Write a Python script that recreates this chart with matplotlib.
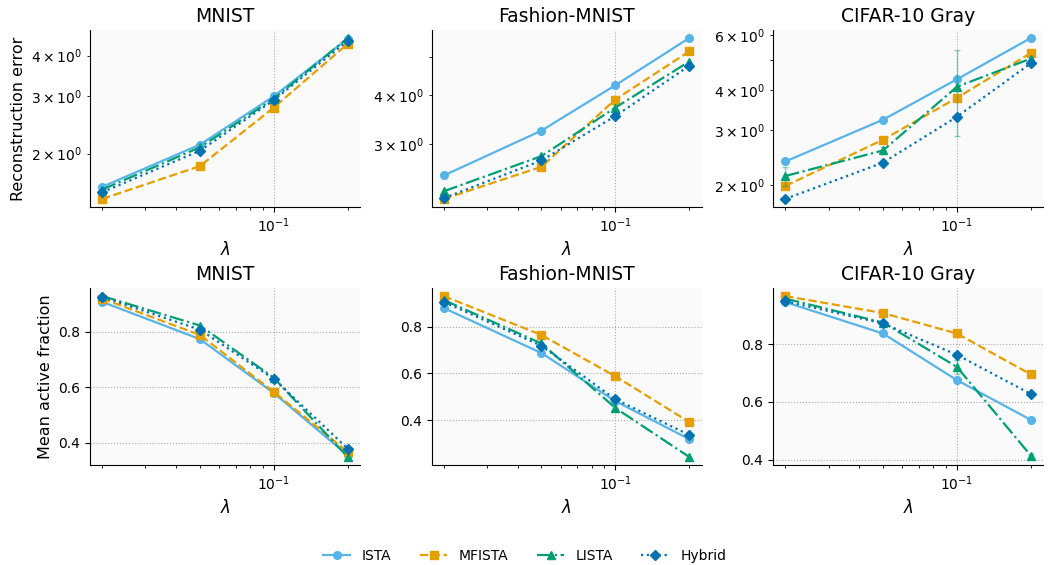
import numpy as np
import matplotlib
matplotlib.use("Agg")
import matplotlib.pyplot as plt

lams = [0.02, 0.05, 0.1, 0.2]
datasets = ["MNIST", "Fashion-MNIST", "CIFAR-10 Gray"]
methods = ["ISTA", "MFISTA", "LISTA", "Hybrid"]
colors = {"ISTA": "#56B4E9", "MFISTA": "#E69F00", "LISTA": "#009E73", "Hybrid": "#0072B2"}
styles = {"ISTA": ("-", "o"), "MFISTA": ("--", "s"), "LISTA": ("-.", "^"), "Hybrid": (":", "D")}

# reconstruction error (mean over runs)
rec_mnist = {
    "ISTA":   [1.58, 2.13, 3.00, 4.51],
    "MFISTA": [1.45, 1.83, 2.77, 4.35],
    "LISTA":  [1.55, 2.09, 2.95, 4.53],
    "Hybrid": [1.52, 2.04, 2.92, 4.44],
}
rec_fashion = {
    "ISTA":   [2.49, 3.24, 4.23, 5.58],
    "MFISTA": [2.17, 2.62, 3.89, 5.16],
    "LISTA":  [2.27, 2.79, 3.71, 4.86],
    "Hybrid": [2.18, 2.72, 3.53, 4.74],
}
rec_cifar = {
    "ISTA":   [2.38, 3.23, 4.34, 5.87],
    "MFISTA": [1.99, 2.79, 3.79, 5.26],
    "LISTA":  [2.14, 2.58, 4.11, 5.05],
    "Hybrid": [1.81, 2.36, 3.30, 4.88],
}
# std of reconstruction error (only LISTA noticeably nonzero)
rec_cifar_lista_std = [0.15, 0.06, 1.25, 0.05]

# mean active fraction
act_mnist = {
    "ISTA":   [0.907, 0.773, 0.579, 0.355],
    "MFISTA": [0.919, 0.788, 0.583, 0.367],
    "LISTA":  [0.928, 0.822, 0.634, 0.349],
    "Hybrid": [0.925, 0.807, 0.630, 0.379],
}
act_fashion = {
    "ISTA":   [0.879, 0.687, 0.482, 0.320],
    "MFISTA": [0.930, 0.764, 0.588, 0.393],
    "LISTA":  [0.913, 0.728, 0.453, 0.244],
    "Hybrid": [0.905, 0.718, 0.490, 0.338],
}
act_cifar = {
    "ISTA":   [0.947, 0.838, 0.676, 0.538],
    "MFISTA": [0.968, 0.909, 0.838, 0.696],
    "LISTA":  [0.959, 0.876, 0.722, 0.414],
    "Hybrid": [0.950, 0.873, 0.764, 0.628],
}
act_cifar_lista_std = [0.005, 0.005, 0.025, 0.005]

rec_all = [rec_mnist, rec_fashion, rec_cifar]
act_all = [act_mnist, act_fashion, act_cifar]

fig, axes = plt.subplots(2, 3, figsize=(10.49, 5.65), dpi=100)
fig.subplots_adjust(left=0.0858, right=0.9943, top=0.9469, bottom=0.177,
                    wspace=0.265, hspace=0.458)

handles = []
for row, table in enumerate([rec_all, act_all]):
    for col, ds in enumerate(datasets):
        ax = axes[row, col]
        ax.set_facecolor("#fafafa")
        for m in methods:
            ls, mk = styles[m]
            y = table[col][m]
            if m == "LISTA" and col == 2:
                err = rec_cifar_lista_std if row == 0 else act_cifar_lista_std
                ax.errorbar(lams, y, yerr=err, fmt="none", ecolor=colors[m],
                            alpha=0.45, capsize=2, elinewidth=1)
            h, = ax.plot(lams, y, linestyle=ls, marker=mk, color=colors[m],
                         linewidth=1.6, markersize=5.5, label=m)
            if row == 0 and col == 0:
                handles.append(h)
        ax.set_xscale("log")
        if row == 0:
            ax.set_yscale("log")
        ax.set_title(ds, fontsize=13.5)
        ax.set_xlabel(r"$\lambda$", fontsize=12)
        ax.grid(True, which="major", linestyle=":", color="#aaaaaa", linewidth=0.8)
        ax.spines["top"].set_visible(False)
        ax.spines["right"].set_visible(False)
        ax.tick_params(labelsize=10)

axes[0, 0].set_ylabel("Reconstruction error", fontsize=11.5)
axes[1, 0].set_ylabel("Mean active fraction", fontsize=11.5)

fig.legend(handles, methods, loc="lower center", ncol=4, frameon=False,
           fontsize=10, bbox_to_anchor=(0.5, -0.018), columnspacing=2.05)

fig.savefig("out.png", dpi=100)
